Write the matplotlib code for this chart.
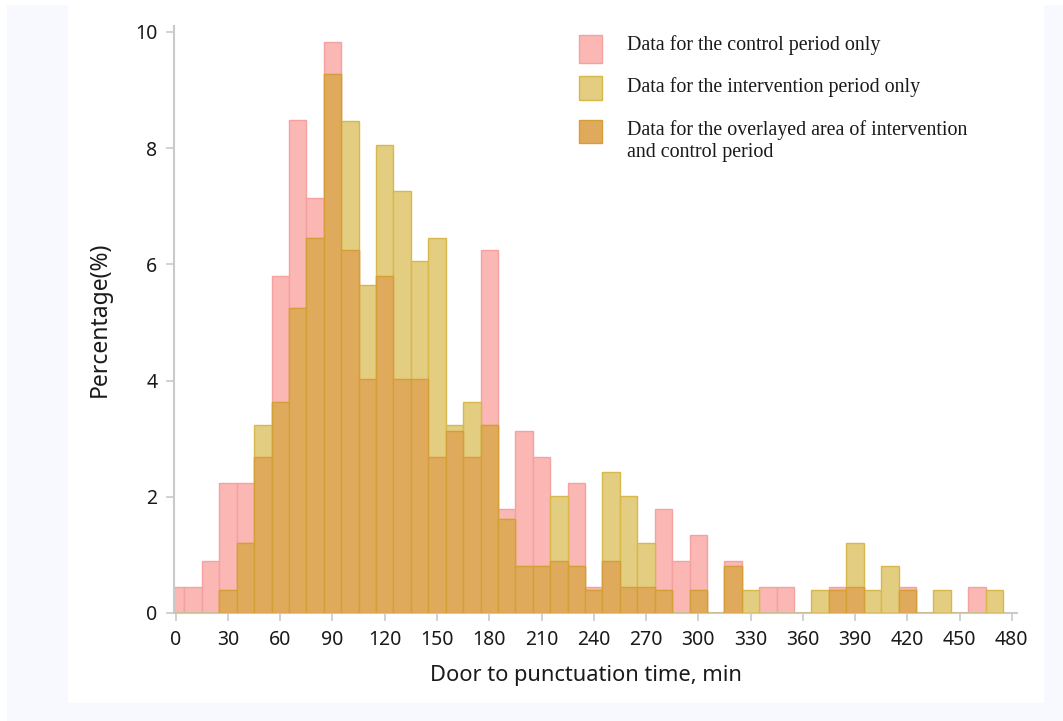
import numpy as np
import matplotlib.pyplot as plt
from matplotlib.patches import Rectangle

# histogram bins (10 min wide, centred on multiples of 10)
bin_centres = list(range(0, 480, 10))

# percentage of patients per bin
control_pct = [0.45, 0.45, 0.89, 2.23, 2.23, 2.68, 5.80, 8.48, 7.14, 9.82,
               6.25, 4.02, 5.80, 4.02, 4.02, 2.68, 3.13, 2.68, 6.25, 1.79,
               3.13, 2.68, 0.89, 2.23, 0.45, 0.89, 0.45, 0.45, 1.79, 0.89,
               1.34, 0.00, 0.89, 0.00, 0.45, 0.45, 0.00, 0.00, 0.45, 0.45,
               0.00, 0.00, 0.45, 0.00, 0.00, 0.00, 0.45, 0.00]
intervention_pct = [0.00, 0.00, 0.00, 0.40, 1.21, 3.23, 3.63, 5.24, 6.45, 9.27,
                    8.47, 5.65, 8.06, 7.26, 6.05, 6.45, 3.23, 3.63, 3.23, 1.61,
                    0.81, 0.81, 2.02, 0.81, 0.40, 2.42, 2.02, 1.21, 0.40, 0.00,
                    0.40, 0.00, 0.81, 0.40, 0.00, 0.00, 0.00, 0.40, 0.40, 1.21,
                    0.40, 0.81, 0.40, 0.00, 0.40, 0.00, 0.00, 0.40]

legend_labels = ['Data for the control period only',
                 'Data for the intervention period only',
                 'Data for the overlayed area of intervention\nand control period']

pink, pink_edge = '#FBB7B4', '#F4A2A0'
yellow, yellow_edge = '#E2CD80', '#D8B84A'
orange, orange_edge = '#E0AA5C', '#D39F36'

W, H = 1063, 721
fig = plt.figure(figsize=(W / 100, H / 100), dpi=100, facecolor='#F7F9FE')
# white panel behind the chart
fig.add_artist(Rectangle((68 / W, 1 - 703 / H), (1044 - 68) / W, (703 - 5) / H,
                         transform=fig.transFigure, facecolor='white', edgecolor='none', zorder=0))
fig.add_artist(Rectangle((0, 0), 7 / W, 1, transform=fig.transFigure,
                         facecolor='white', edgecolor='none', zorder=0))
fig.add_artist(Rectangle((0, 1 - 5 / H), 1, 5 / H, transform=fig.transFigure,
                         facecolor='white', edgecolor='none', zorder=0))

ax = fig.add_axes([174 / W, 1 - 613 / H, (1017 - 174) / W, (613 - 26) / H])
ax.set_facecolor('none')

x = np.array(bin_centres)
ctrl = np.array(control_pct)
intv = np.array(intervention_pct)
overlap = np.minimum(ctrl, intv)

ax.bar(x, ctrl, width=10, color=pink, edgecolor=pink_edge, linewidth=1, zorder=2)
ax.bar(x, intv, width=10, color=yellow, edgecolor=yellow_edge, linewidth=1, zorder=3)
ax.bar(x, overlap, width=10, color=orange, edgecolor=orange_edge, linewidth=1, zorder=4)

ax.set_xlim(-1, 483)
ax.set_ylim(0, 10.1)
ax.set_xticks(range(0, 481, 30))
ax.set_yticks(range(0, 11, 2))
for side in ['top', 'right']:
    ax.spines[side].set_visible(False)
for side in ['left', 'bottom']:
    ax.spines[side].set_color('#C8CACC')
    ax.spines[side].set_linewidth(1.5)
ax.tick_params(colors='#C8CACC', width=1.2, length=6, labelcolor='#1A1A1A',
               labelsize=14, pad=6)
for lab in ax.get_xticklabels() + ax.get_yticklabels():
    lab.set_family('Noto Sans')

ax.set_xlabel('Door to punctuation time, min', fontsize=15.7, family='Noto Sans',
              color='#1A1A1A')
ax.xaxis.set_label_coords(0.489, -0.088)
ax.set_ylabel('Percentage(%)', fontsize=16.5, family='Noto Sans',
              color='#1A1A1A', labelpad=17)

# legend drawn by hand (handle aligned with first text line)
handles = [(pink, pink_edge, 35, 63), (yellow, yellow_edge, 76, 100), (orange, orange_edge, 120, 143)]
text_y = [45, 87, 141]
for (fc, ec, y0, y1), ty, lab in zip(handles, text_y, legend_labels):
    fig.add_artist(Rectangle((579 / W, 1 - y1 / H), 23 / W, (y1 - y0) / H,
                             transform=fig.transFigure, facecolor=fc, edgecolor=ec,
                             linewidth=1, zorder=5))
    fig.text(627 / W, 1 - ty / H, lab, family='Liberation Serif', fontsize=14.4,
             color='#1A1A1A', va='center', ha='left', linespacing=1.2)

fig.savefig('out.png', dpi=100, facecolor=fig.get_facecolor())
